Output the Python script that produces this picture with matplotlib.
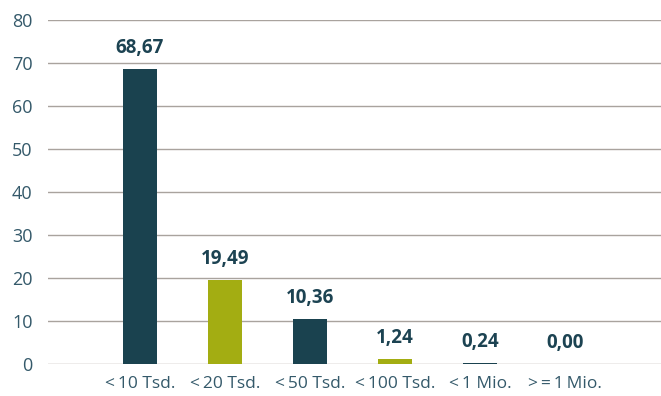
import matplotlib
matplotlib.use("Agg")
import matplotlib.pyplot as plt

categories = ["<\u200910 Tsd.", "<\u200920 Tsd.", "<\u200950 Tsd.", "<\u2009100 Tsd.", "<\u20091 Mio.", ">\u2009=\u20091\u2009Mio."]
values = [68.67, 19.49, 10.36, 1.24, 0.24, 0.00]
labels = ["68,67", "19,49", "10,36", "1,24", "0,24", "0,00"]
yticks = [0, 10, 20, 30, 40, 50, 60, 70, 80]

dark = "#1a424f"
olive = "#a3ad12"
colors = [dark, olive, dark, olive, dark, olive]
text_col = "#34596a"

plt.rcParams['font.family'] = ['Open Sans', 'DejaVu Sans']

fig = plt.figure(figsize=(6.61, 3.96), dpi=100)
ax = fig.add_axes([48/661, 32/396, 1 - 48/661, (364-20)/396])

x = list(range(len(categories)))
ax.bar(x, values, width=0.4, color=colors, zorder=3)
for xi, v, lab in zip(x, values, labels):
    ax.annotate(lab, (xi, v), xytext=(0, 8), textcoords="offset points",
                ha="center", va="bottom", fontsize=13.5, fontweight="bold", color="#1c4352")

ax.set_xlim(-1.08, 6.13)
ax.set_ylim(0, 80)
ax.set_yticks(yticks)
ax.set_yticklabels([str(t) for t in yticks])
ax.set_xticks(x)
ax.set_xticklabels(categories)
ax.yaxis.grid(True, color="#a9a39e", linewidth=1.0, zorder=0)
ax.set_axisbelow(True)
for s in ax.spines.values():
    s.set_visible(False)
ax.tick_params(axis="both", length=0, colors=text_col)
ax.tick_params(axis="y", pad=11, labelsize=13)
ax.tick_params(axis="x", pad=9, labelsize=12.5)

fig.savefig("out.png", dpi=100)
